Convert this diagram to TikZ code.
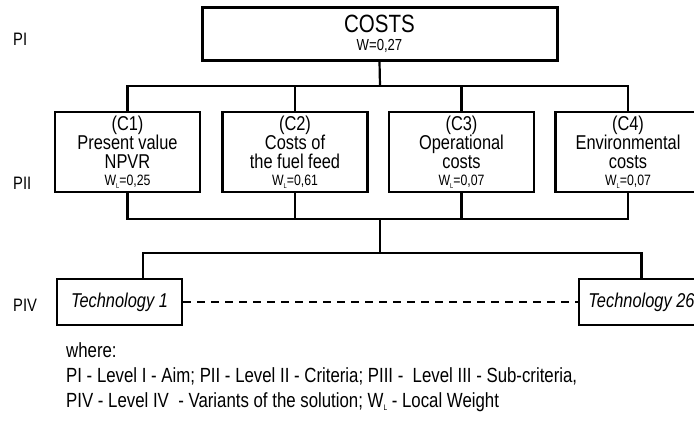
\documentclass[tikz,border=0pt]{standalone}
\usepackage{fontspec}
\setmainfont{Liberation Sans}[FakeStretch=0.82]
\usetikzlibrary{positioning}
\tikzset{aim/.style={draw,line width=3pt,minimum width=355pt,minimum height=53pt,inner sep=0pt,align=center},
         crit/.style={draw,line width=2.2pt,minimum width=145pt,minimum height=80pt,inner sep=0pt,align=center,font=\fontsize{20}{19}\selectfont},
         variant/.style={draw,line width=2.2pt,minimum width=125pt,minimum height=46pt,inner sep=0pt,font=\fontsize{20}{20}\selectfont\itshape},
         level/.style={anchor=west,inner sep=0pt,font=\fontsize{18}{18}\selectfont},
         note/.style={anchor=base west,inner sep=0pt,font=\fontsize{20.5}{20}\selectfont},
         link/.style={line width=2.2pt},
        }
\newcommand{\wl}[1]{{\fontsize{15}{15}\selectfont W\raisebox{-0.35ex}{\fontsize{7}{7}\selectfont L}=#1}}

\begin{document}
\begin{tikzpicture}[x=1pt,y=-1pt]
        \useasboundingbox (0,0) rectangle (694,423);
        \clip (0,0) rectangle (694,423);

        \node[aim](costs)at(379.5,33.5){\fontsize{25}{25}\selectfont COSTS\\[6pt]\fontsize{16}{16}\selectfont W=0,27};

        \node[crit](c1)at(127.5,152){(C1)\\Present value\\NPVR\\[-2pt]\wl{0,25}};
        \node[crit](c2)at(295,152){(C2)\\Costs of\\the fuel feed\\[-2pt]\wl{0,61}};
        \node[crit](c3)at(461.5,152){(C3)\\Operational\\costs\\[-2pt]\wl{0,07}};
        \node[crit](c4)at(628,152){(C4)\\Environmental\\costs\\[-2pt]\wl{0,07}};

        \node[variant](t1)at(119.5,302){Technology 1};
        \node[variant](t26)at(641.5,302){Technology 26};

        \node[level](pi)at(13,39){PI};
        \node[level](pii)at(13,183){PII};
        \node[level](piv)at(13,305){PIV};

        \coordinate(top)at(380,86);
        \coordinate(mid)at(380,219);
        \coordinate(low)at(380,253);
        \coordinate(t1in)at(143,279);

        \draw[link](costs.south)--(top);
        \draw[link](c1.north)|-(top)-|(c4.north);
        \draw[link](c2.north)--(c2.north|-top);
        \draw[link](c3.north)--(c3.north|-top);
        \draw[link](c1.south)|-(mid)-|(c4.south);
        \draw[link](c2.south)--(c2.south|-mid);
        \draw[link](c3.south)--(c3.south|-mid);
        \draw[link](mid)--(low);
        \draw[link](t1in)|-(low)-|(t26.north);
        \draw[link,dashed,dash pattern=on 8pt off 6pt](t1.east)--(t26.west);

        \node[note](where)at(66,357){where:};
        \node[note](key1)at(66,382){PI - Level I - Aim; PII - Level II - Criteria; PIII -\ \ Level III - Sub-criteria,};
        \node[note](key2)at(66,407){PIV - Level IV\ \ - Variants of the solution; W\raisebox{-0.35ex}{\fontsize{8}{8}\selectfont L} - Local Weight};
    \end{tikzpicture}
\end{document}
